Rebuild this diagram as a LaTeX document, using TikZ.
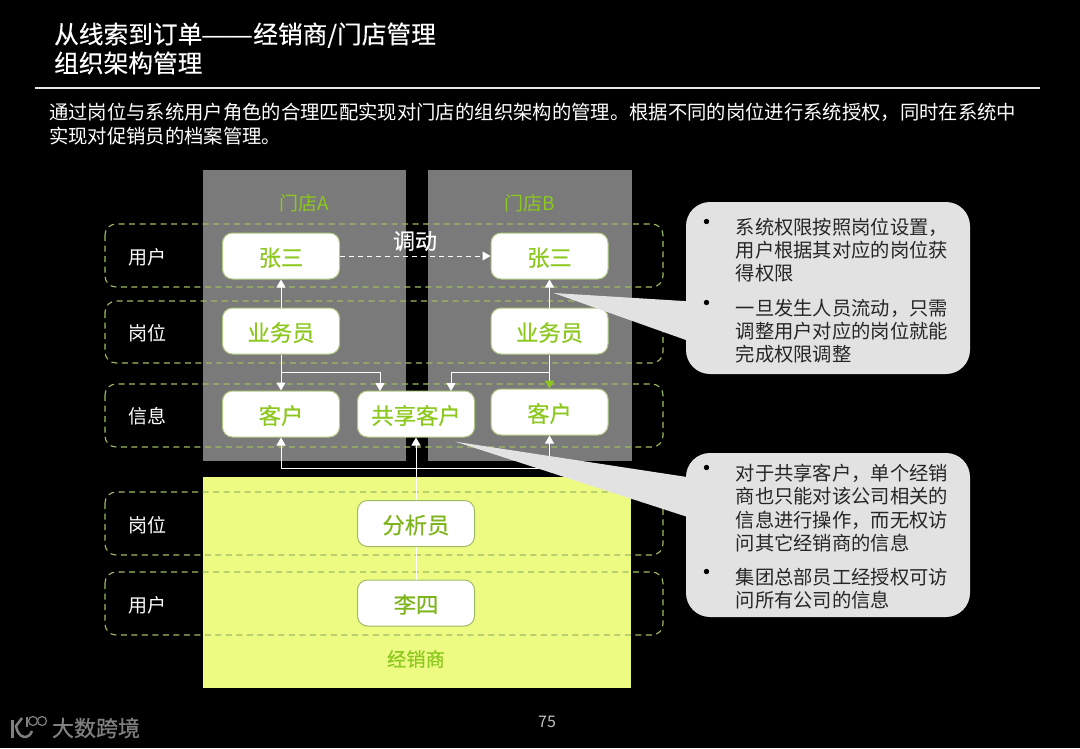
\documentclass[tikz,border=0pt]{standalone}
\usepackage{fontspec}
\setmainfont{Noto Sans CJK SC}
\newfontfamily\dashfont{Liberation Sans}
\usetikzlibrary{arrows.meta}
\definecolor{panelgray}{HTML}{7A7A7A}
\definecolor{dealeryellow}{HTML}{EEFB82}
\definecolor{leafgreen}{HTML}{8CC81E}
\definecolor{bandgreen}{HTML}{9DBB62}
\definecolor{calloutgray}{HTML}{E2E2E2}
\definecolor{logogray}{HTML}{808080}
\tikzset{
  bandbox/.style={draw=bandgreen,line width=1.1pt,dash pattern=on 6pt off 4.5pt,rounded corners=11pt},
  rolebox/.style={draw=bandgreen!80!white,fill=white,line width=1pt,rounded corners=10pt,minimum width=117pt,minimum height=46pt,inner sep=0pt,text height=20pt,text depth=0pt,text=leafgreen,font=\fontsize{22.3}{26}\selectfont\addfontfeature{FakeBold=0.4}},
  sidelabel/.style={text=white,font=\fontsize{19}{23}\selectfont},
  headlabel/.style={text=leafgreen,font=\fontsize{19}{23}\selectfont},
  linkarrow/.style={draw=white,line width=1pt,-{Triangle[width=9pt,length=8pt]}},
  linkline/.style={draw=white,line width=1pt},
  calloutbox/.style={fill=calloutgray,rounded corners=24pt},
  callouttext/.style={anchor=west,align=left,inner sep=0pt,text=black!85,font=\fontsize{19.3}{23.3}\selectfont},
  calloutdot/.style={text=black,inner sep=0pt,font=\fontsize{25}{28}\selectfont},
  logostroke/.style={draw=logogray,line width=1.2pt},
}
\begin{document}
\begin{tikzpicture}[x=1pt,y=-1pt]
  \useasboundingbox (0,0) rectangle (1080,748);
  \fill[black] (0,0) rectangle (1080,748);

  % title
  \path (54,48.5) node[anchor=west,inner sep=0pt,align=left,text=white,font=\fontsize{24.7}{29}\selectfont\addfontfeature{FakeBold=0.3}] (title) {从线索到订单{\dashfont ——}\kern1.5pt 经销商/门店管理\\组织架构管理};
  \coordinate (ruleL) at (35,88);
  \coordinate (ruleR) at (1040,88);
  \draw[white!90!black,line width=1.5pt] (ruleL) -- (ruleR);
  \path (49,124) node[anchor=west,inner sep=0pt,align=left,text=white,font=\fontsize{19.34}{24}\selectfont] (intro) {通过岗位与系统用户角色的合理匹配实现对门店的组织架构的管理。根据不同的岗位进行系统授权，同时在系统中\\实现对促销员的档案管理。};

  % panels
  \fill[panelgray] (203,170) rectangle (406,461);
  \fill[panelgray] (428,170) rectangle (632,461);
  \fill[dealeryellow] (203,477) rectangle (631,688);
  \path (304,203) node[headlabel] (storeA) {门店A};
  \path (530,203) node[headlabel] (storeB) {门店B};
  \path (416,659) node[headlabel,font=\fontsize{19.3}{23}\selectfont\addfontfeature{FakeBold=0.4}] (dealer) {经销商};

  % dashed bands
  \draw[bandbox] (105,224) rectangle (663,287);
  \draw[bandbox] (105,301) rectangle (663,363);
  \draw[bandbox] (105,384) rectangle (663,447);
  \draw[bandbox] (105,492) rectangle (663,555);
  \draw[bandbox] (105,572) rectangle (663,635);
  \path (147,257) node[sidelabel] (bandA) {用户};
  \path (147,333) node[sidelabel] (bandB) {岗位};
  \path (147,416) node[sidelabel] (bandC) {信息};
  \path (147,525) node[sidelabel] (bandD) {岗位};
  \path (147,605) node[sidelabel] (bandE) {用户};

  % roles
  \path (281,256) node[rolebox] (userA) {张三};
  \path (281,331) node[rolebox] (postA) {业务员};
  \path (281,414) node[rolebox] (custA) {客户};
  \path (416,414) node[rolebox] (shared) {共享客户};
  \path (549.5,256) node[rolebox] (userB) {张三};
  \path (549.5,331) node[rolebox] (postB) {业务员};
  \path (549.5,412) node[rolebox] (custB) {客户};
  \path (416,523.5) node[rolebox,draw=bandgreen,text=leafgreen!90!black] (analyst) {分析员};
  \path (416,603) node[rolebox,draw=bandgreen,text=leafgreen!90!black] (lisi) {李四};

  % links
  \coordinate (forkA) at (281,372);
  \coordinate (forkB) at (549.5,372);
  \coordinate (sharedA) at (380,391);
  \coordinate (sharedB) at (451,391);
  \coordinate (busA) at (281,468);
  \coordinate (busB) at (549.5,468);
  \draw[linkarrow] (postA) -- (userA);
  \draw[linkarrow] (postB) -- (userB);
  \draw[linkarrow] (postA) -- (custA);
  \draw[linkarrow,-{Triangle[width=9pt,length=8pt,color=leafgreen]}] (postB) -- (custB);
  \draw[linkarrow] (forkA) -| (sharedA);
  \draw[linkarrow] (forkB) -| (sharedB);
  \draw[linkline] (lisi) -- (analyst);
  \draw[linkarrow] (analyst) -- (shared);
  \draw[linkline] (busA) -- (busB);
  \draw[linkarrow] (busA) -- (custA);
  \draw[linkarrow] (busB) -- (custB);
  \path (415,241) node[text=white,font=\fontsize{22}{26}\selectfont\addfontfeature{FakeBold=0.4}] (moved) {调动};
  \draw[linkarrow,dash pattern=on 5pt off 4pt] (userA) -- (userB);

  % callouts
  \fill[calloutgray] (553.6,293) -- (700,302) -- (700,345) -- cycle;
  \fill[calloutgray] (455.5,441.7) -- (700,479) -- (700,521) -- cycle;
  \fill[calloutbox] (686,202) rectangle (970,374);
  \fill[calloutbox] (686,453) rectangle (970,617);
  \path (707,225) node[calloutdot] (dotA) {•};
  \path (707,306) node[calloutdot] (dotB) {•};
  \path (707,471) node[calloutdot] (dotC) {•};
  \path (707,575) node[calloutdot] (dotD) {•};
  \path (735.5,250) node[callouttext] (noteA) {系统权限按照岗位设置，\\用户根据其对应的岗位获\\得权限};
  \path (735.5,331) node[callouttext] (noteB) {一旦发生人员流动，只需\\调整用户对应的岗位就能\\完成权限调整};
  \path (735.5,508) node[callouttext] (noteC) {对于共享客户，单个经销\\商也只能对该公司相关的\\信息进行操作，而无权访\\问其它经销商的信息};
  \path (735.5,588.5) node[callouttext] (noteD) {集团总部员工经授权可访\\问所有公司的信息};

  % footer
  \path (547,722) node[text=white!75!black,font=\fontsize{16}{20}\selectfont] (page) {75};
  \path (96,728) node[text=logogray,font=\fontsize{22}{26}\selectfont\addfontfeature{FakeBold=0.6}] (brand) {大数跨境};
  \draw[logostroke,line width=3pt] (12.5,720) -- (12.5,738);
  \draw[logostroke,line width=2.5pt] (22,718) -- (16,726) .. controls (18,739) and (29,740) .. (32,731);
  \draw[logostroke] (27,717) -- (27,727);
  \draw[logostroke] (33,721) circle (4.5);
  \draw[logostroke] (42,721) circle (4.5);
\end{tikzpicture}
\end{document}
